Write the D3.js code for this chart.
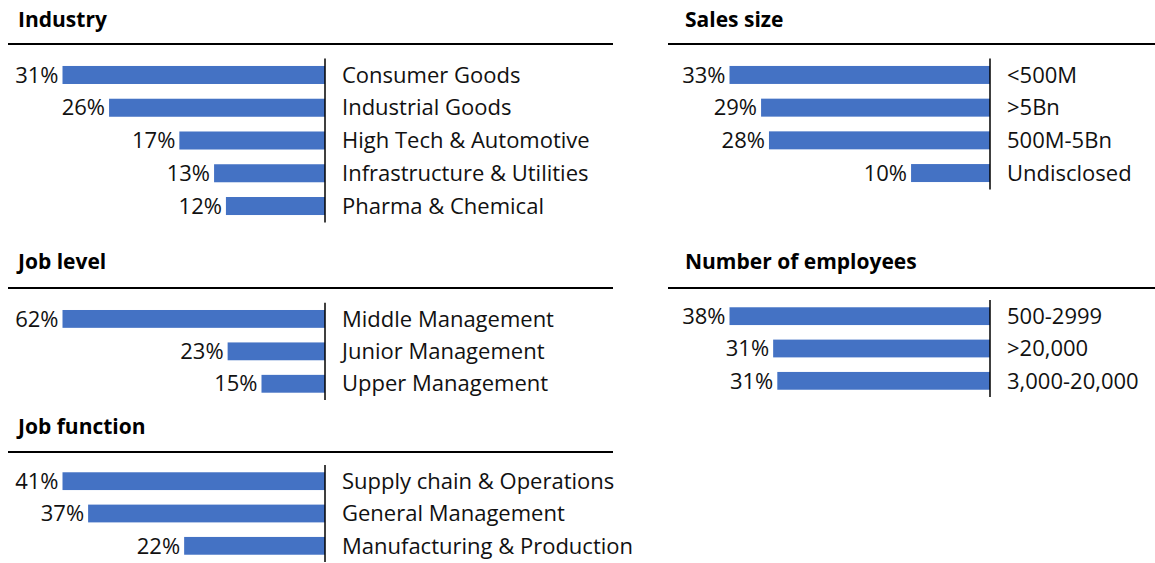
<!DOCTYPE html>
<html>
<head>
<meta charset="utf-8">
<script src="https://cdn.jsdelivr.net/npm/d3@7"></script>
<style>
  body { margin: 0; background: #fff; }
  .title { font-family: "Open Sans", sans-serif; font-weight: 700; font-size: 21px; fill: #000; }
  .lbl { font-family: "Open Sans", sans-serif; font-size: 22px; fill: #111; }
</style>
</head>
<body>
<div id="chart"></div>
<script>
// data (labels shown rounded)
var industryCats = ["Consumer Goods", "Industrial Goods", "High Tech & Automotive", "Infrastructure & Utilities", "Pharma & Chemical"];
var industryVals = [31, 25.5, 17.2, 13.1, 11.7];

var jobLevelCats = ["Middle Management", "Junior Management", "Upper Management"];
var jobLevelVals = [62, 23, 15];

var jobFunctionCats = ["Supply chain & Operations", "General Management", "Manufacturing & Production"];
var jobFunctionVals = [41, 37, 22];

var salesCats = ["<500M", ">5Bn", "500M-5Bn", "Undisclosed"];
var salesVals = [33, 29, 28, 10];

var employeeCats = ["500-2999", ">20,000", "3,000-20,000"];
var employeeVals = [37.6, 31.3, 30.7];

var titles = ["Industry", "Job level", "Job function", "Sales size", "Number of employees"];

var W = 1155, H = 563;
var barColor = "#4472C4";

var svg = d3.select("#chart").append("svg")
    .attr("width", W)
    .attr("height", H);

// layout for each block
var panels = [
    {title: titles[0], cats: industryCats, vals: industryVals, lineX: [8, 613], titleX: 18, titleY: 20, lineY: 44, axisX: 325, left: 62.5, band: [58.6, 222.4]},
    {title: titles[1], cats: jobLevelCats, vals: jobLevelVals, lineX: [8, 613], titleX: 18, titleY: 262, lineY: 288, axisX: 325, left: 62.5, band: [302.7, 400]},
    {title: titles[2], cats: jobFunctionCats, vals: jobFunctionVals, lineX: [8, 613], titleX: 18, titleY: 427, lineY: 452, axisX: 325, left: 62.5, band: [465, 562]},
    {title: titles[3], cats: salesCats, vals: salesVals, lineX: [668, 1155], titleX: 685, titleY: 20, lineY: 44, axisX: 990, left: 729.5, band: [58.6, 189.4]},
    {title: titles[4], cats: employeeCats, vals: employeeVals, lineX: [668, 1155], titleX: 685, titleY: 262, lineY: 288, axisX: 990, left: 729.5, band: [300, 397]}
];

panels.forEach(function(p){
    var g = svg.append("g");

    var rows = p.cats.map(function(c, i){ return {cat: c, val: p.vals[i]}; });

    var x = d3.scaleLinear()
        .domain([0, d3.max(p.vals)])
        .range([p.axisX, p.left]);

    var y = d3.scaleBand()
        .domain(p.cats)
        .range(p.band)
        .paddingInner(0.45)
        .paddingOuter(0.225);

    g.append("text")
        .attr("class", "title")
        .attr("x", p.titleX)
        .attr("y", p.titleY)
        .attr("dy", "0.35em")
        .text(p.title);

    g.append("line")
        .attr("x1", p.lineX[0]).attr("x2", p.lineX[1])
        .attr("y1", p.lineY).attr("y2", p.lineY)
        .attr("stroke", "#000")
        .attr("stroke-width", 2);

    g.selectAll("rect").data(rows).enter().append("rect")
        .attr("x", function(d){ return x(d.val); })
        .attr("y", function(d){ return y(d.cat); })
        .attr("width", function(d){ return p.axisX - x(d.val); })
        .attr("height", y.bandwidth())
        .attr("fill", barColor);

    // vertical axis line
    g.append("line")
        .attr("x1", p.axisX).attr("x2", p.axisX)
        .attr("y1", p.band[0]).attr("y2", p.band[1])
        .attr("stroke", "#000")
        .attr("stroke-width", 1.5);

    g.selectAll(".pct").data(rows).enter().append("text")
        .attr("class", "lbl pct")
        .attr("x", function(d){ return x(d.val) - 4; })
        .attr("y", function(d){ return y(d.cat) + y.bandwidth() / 2; })
        .attr("dy", "0.35em")
        .attr("text-anchor", "end")
        .text(function(d){ return Math.round(d.val) + "%"; });

    g.selectAll(".cat").data(rows).enter().append("text")
        .attr("class", "lbl cat")
        .attr("x", p.axisX + 17)
        .attr("y", function(d){ return y(d.cat) + y.bandwidth() / 2; })
        .attr("dy", "0.35em")
        .text(function(d){ return d.cat; });
});
</script>
</body>
</html>
